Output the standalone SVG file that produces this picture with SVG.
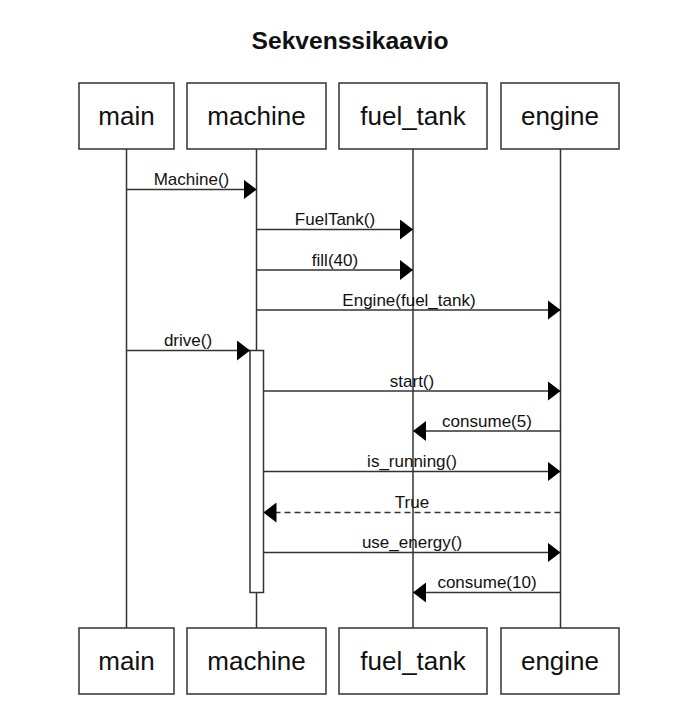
<svg xmlns="http://www.w3.org/2000/svg" width="697" height="708" viewBox="0 0 697 708">
<style>
.box{fill:#fff;stroke:#333;stroke-width:1.5}
.name{font-family:"Liberation Sans",Arial,sans-serif;font-size:26px;fill:#111;text-anchor:middle}
.title{font-family:"Liberation Sans",Arial,sans-serif;font-size:24.6px;font-weight:bold;fill:#111;text-anchor:middle}
.life{stroke:#333;stroke-width:1.5;fill:none}
.msg{stroke:#333;stroke-width:1.5;fill:none;marker-end:url(#arr)}
.ret{stroke:#333;stroke-width:1.5;fill:none;stroke-dasharray:6 4;marker-end:url(#arr)}
.lbl{font-family:"Liberation Sans",Arial,sans-serif;font-size:17px;fill:#111;text-anchor:middle}
.act{fill:#fff;stroke:#333;stroke-width:1.5}
</style>
<defs>
<marker id="arr" viewBox="0 0 13 20" refX="13" refY="10" markerWidth="13" markerHeight="20" markerUnits="userSpaceOnUse" orient="auto">
<path d="M0,0 L13,10 L0,20 Z" fill="#000"/>
</marker>
</defs>
<rect width="697" height="708" fill="#fff"/>
<text class="title" x="350" y="49">Sekvenssikaavio</text>
<g id="lifelines">
<line class="life" x1="126.5" y1="149" x2="126.5" y2="628"/>
<line class="life" x1="256.5" y1="149" x2="256.5" y2="628"/>
<line class="life" x1="413" y1="149" x2="413" y2="628"/>
<line class="life" x1="560.5" y1="149" x2="560.5" y2="628"/>
</g>
<g id="main_top"><rect class="box" x="79" y="83" width="95" height="66"/><text class="name" x="126.5" y="125">main</text></g>
<g id="machine_top"><rect class="box" x="187" y="83" width="139" height="66"/><text class="name" x="256.5" y="125">machine</text></g>
<g id="fuel_tank_top"><rect class="box" x="339" y="83" width="148" height="66"/><text class="name" x="413" y="125">fuel_tank</text></g>
<g id="engine_top"><rect class="box" x="501" y="83" width="118" height="66"/><text class="name" x="560" y="125">engine</text></g>
<g id="main_bottom"><rect class="box" x="79" y="628" width="95" height="66"/><text class="name" x="126.5" y="670">main</text></g>
<g id="machine_bottom"><rect class="box" x="187" y="628" width="139" height="66"/><text class="name" x="256.5" y="670">machine</text></g>
<g id="fuel_tank_bottom"><rect class="box" x="339" y="628" width="148" height="66"/><text class="name" x="413" y="670">fuel_tank</text></g>
<g id="engine_bottom"><rect class="box" x="501" y="628" width="118" height="66"/><text class="name" x="560" y="670">engine</text></g>
<g id="activation"><rect class="act" x="250" y="350.5" width="13.5" height="242"/></g>
<g id="connectors">
<line class="msg" x1="126.5" y1="189.5" x2="256.5" y2="189.5"/>
<text class="lbl" x="191.5" y="185">Machine()</text>
<line class="msg" x1="256.5" y1="229.5" x2="413" y2="229.5"/>
<text class="lbl" x="335" y="225">FuelTank()</text>
<line class="msg" x1="256.5" y1="270" x2="413" y2="270"/>
<text class="lbl" x="335" y="265.5">fill(40)</text>
<line class="msg" x1="256.5" y1="310" x2="560.5" y2="310"/>
<text class="lbl" x="409" y="305.5">Engine(fuel_tank)</text>
<line class="msg" x1="126.5" y1="350.5" x2="250" y2="350.5"/>
<text class="lbl" x="188" y="346">drive()</text>
<line class="msg" x1="263.5" y1="391" x2="560.5" y2="391"/>
<text class="lbl" x="412" y="386.5">start()</text>
<line class="msg" x1="560.5" y1="431" x2="413" y2="431"/>
<text class="lbl" x="487" y="426.5">consume(5)</text>
<line class="msg" x1="263.5" y1="471.5" x2="560.5" y2="471.5"/>
<text class="lbl" x="412" y="467">is_running()</text>
<line class="ret" x1="560.5" y1="512.5" x2="263.5" y2="512.5"/>
<text class="lbl" x="412" y="508">True</text>
<line class="msg" x1="263.5" y1="552.5" x2="560.5" y2="552.5"/>
<text class="lbl" x="412" y="548">use_energy()</text>
<line class="msg" x1="560.5" y1="592.5" x2="413" y2="592.5"/>
<text class="lbl" x="487" y="588">consume(10)</text>
</g>
</svg>
